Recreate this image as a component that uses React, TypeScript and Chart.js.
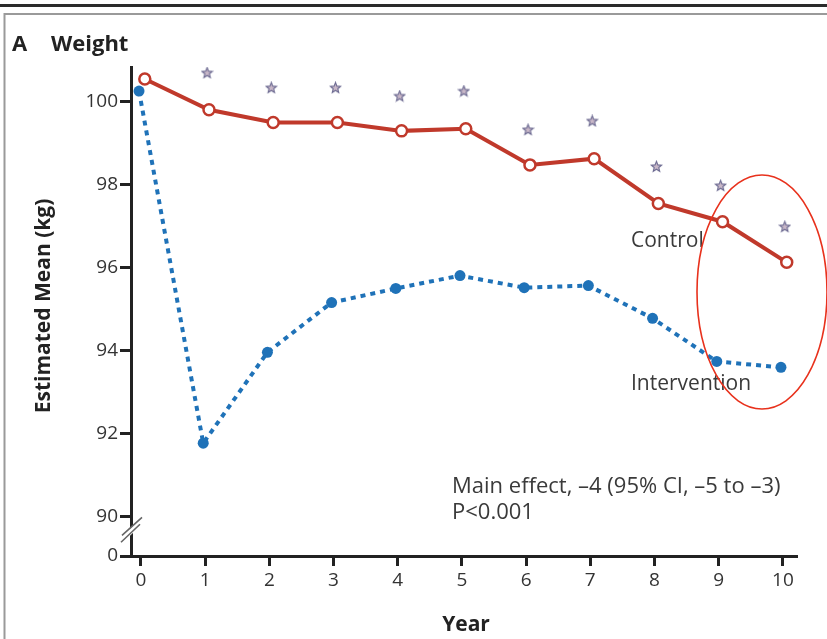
import React, { useEffect, useRef } from "react";
import { Chart, registerables } from "chart.js";

Chart.register(...registerables);

const years = [0, 1, 2, 3, 4, 5, 6, 7, 8, 9, 10];
const controlValues = [100.55, 99.81, 99.5, 99.5, 99.3, 99.35, 98.48, 98.63, 97.55, 97.11, 96.13];
const interventionValues = [100.26, 91.77, 93.96, 95.16, 95.5, 95.81, 95.52, 95.57, 94.78, 93.74, 93.6];
const starYears = [1, 2, 3, 4, 5, 6, 7, 8, 9, 10];
const starValues = [100.7, 100.34, 100.34, 100.14, 100.26, 99.33, 99.54, 98.44, 97.98, 96.99];
const yTickValues = [90, 92, 94, 96, 98, 100];
const xTickValues = [0, 1, 2, 3, 4, 5, 6, 7, 8, 9, 10];

const Y_MIN = 89.05;
const Y_MAX = 100.84;
const X_MIN = -0.155;
const X_MAX = 10.22;

const FONT = "'Open Sans', 'Liberation Sans', sans-serif";
const TEXT = "#333333";
const RED = "#c0392b";
const BLUE = "#1f72b8";

function makeStar(): HTMLCanvasElement {
  const c = document.createElement("canvas");
  c.width = 13;
  c.height = 13;
  const g = c.getContext("2d")!;
  g.beginPath();
  const cx = 6.5, cy = 6.8, R = 5.5, r = 2.4;
  for (let i = 0; i < 10; i++) {
    const a = -Math.PI / 2 + (i * Math.PI) / 5;
    const rad = i % 2 === 0 ? R : r;
    const x = cx + rad * Math.cos(a);
    const y = cy + rad * Math.sin(a);
    if (i === 0) g.moveTo(x, y);
    else g.lineTo(x, y);
  }
  g.closePath();
  g.fillStyle = "#c9b8c8";
  g.fill();
  g.strokeStyle = "#6a6890";
  g.lineWidth = 1.1;
  g.stroke();
  return c;
}

const decorPlugin = {
  id: "decor",
  beforeDraw(chart: any) {
    const ctx = chart.ctx;
    ctx.save();
    ctx.fillStyle = "#ffffff";
    ctx.fillRect(0, 0, chart.width, chart.height);
    ctx.strokeStyle = "#2a2a2a";
    ctx.lineWidth = 3;
    ctx.beginPath();
    ctx.moveTo(0, 5.5);
    ctx.lineTo(chart.width, 5.5);
    ctx.stroke();
    ctx.strokeStyle = "#9a9a9a";
    ctx.lineWidth = 2;
    ctx.beginPath();
    ctx.moveTo(4.5, chart.height);
    ctx.lineTo(4.5, 14);
    ctx.lineTo(chart.width, 14);
    ctx.stroke();
    ctx.restore();
  },
  afterDraw(chart: any) {
    const ctx = chart.ctx;
    const yScale = chart.scales.y;
    const xScale = chart.scales.x;
    ctx.save();
    ctx.fillStyle = "#222";
    ctx.textBaseline = "middle";
    ctx.textAlign = "left";
    ctx.font = `bold 22px ${FONT}`;
    ctx.fillText("A", 12, 45);
    ctx.fillText("Weight", 51, 45);

    // y title
    ctx.save();
    ctx.translate(44, 306);
    ctx.rotate(-Math.PI / 2);
    ctx.textAlign = "center";
    ctx.font = `bold 21px ${FONT}`;
    ctx.fillText("Estimated Mean (kg)", 0, 0);
    ctx.restore();

    // x title
    ctx.textAlign = "center";
    ctx.font = `bold 21px ${FONT}`;
    ctx.fillText("Year", 466, 625);

    // annotations
    ctx.fillStyle = "#3a3a3a";
    ctx.textAlign = "left";
    ctx.font = `21px ${FONT}`;
    ctx.fillText("Control", 631, 241);
    ctx.fillText("Intervention", 631, 384);
    ctx.font = `22px ${FONT}`;
    ctx.fillText("Main effect, \u20134 (95% CI, \u20135 to \u20133)", 452, 487);
    ctx.fillText("P<0.001", 452, 513);

    // axis break
    const ax = xScale.left;
    const by = yScale.getPixelForValue(89.67);
    ctx.fillStyle = "#ffffff";
    ctx.beginPath();
    ctx.moveTo(ax - 9, by + 6);
    ctx.lineTo(ax + 9, by - 11);
    ctx.lineTo(ax + 9, by - 4);
    ctx.lineTo(ax - 9, by + 13);
    ctx.closePath();
    ctx.fill();
    ctx.strokeStyle = "#666";
    ctx.lineWidth = 1.6;
    ctx.beginPath();
    ctx.moveTo(ax - 9, by + 5);
    ctx.lineTo(ax + 11, by - 13);
    ctx.moveTo(ax - 10, by + 12);
    ctx.lineTo(ax + 9, by - 6);
    ctx.stroke();

    // highlight ellipse
    ctx.strokeStyle = "#e8311c";
    ctx.lineWidth = 1.6;
    ctx.beginPath();
    ctx.ellipse(762, 292, 65, 117, 0, 0, Math.PI * 2);
    ctx.stroke();
    ctx.restore();
  },
};

export default function App() {
  const ref = useRef<HTMLCanvasElement | null>(null);
  useEffect(() => {
    document.body.style.margin = "0";
    const star = makeStar();
    const chart = new Chart(ref.current!, {
      type: "scatter",
      data: {
        datasets: [
          {
            label: "Intervention",
            data: years.map((yr, i) => ({ x: yr - 0.03, y: interventionValues[i] })),
            showLine: true,
            borderColor: BLUE,
            backgroundColor: BLUE,
            borderWidth: 4,
            borderDash: [5, 5],
            pointRadius: 5.5,
            pointBackgroundColor: BLUE,
            pointBorderColor: BLUE,
            pointBorderWidth: 0,
            order: 2,
          },
          {
            label: "Control",
            data: years.map((yr, i) => ({ x: yr + 0.06, y: controlValues[i] })),
            showLine: true,
            borderColor: RED,
            borderWidth: 4,
            pointRadius: 5.5,
            pointBackgroundColor: "#ffffff",
            pointBorderColor: RED,
            pointBorderWidth: 2.5,
            order: 1,
          },
          {
            label: "Significance",
            data: starYears.map((yr, i) => ({ x: yr + 0.03, y: starValues[i] })),
            showLine: false,
            pointStyle: star,
            pointRadius: 6,
            order: 0,
          },
        ],
      },
      options: {
        animation: false,
        responsive: true,
        maintainAspectRatio: false,
        layout: { padding: { top: 67, right: 30, left: 0, bottom: 0 } },
        plugins: { legend: { display: false }, tooltip: { enabled: false }, title: { display: false } },
        scales: {
          x: {
            type: "linear",
            min: X_MIN,
            max: X_MAX,
            afterBuildTicks: (s: any) => {
              s.ticks = xTickValues.map((v) => ({ value: v }));
            },
            afterFit: (s: any) => {
              s.height = 83;
            },
            ticks: { color: TEXT, font: { family: FONT, size: 19 }, padding: 3, autoSkip: false, maxRotation: 0 },
            grid: { drawOnChartArea: false, drawTicks: true, tickLength: 10, tickWidth: 3, tickColor: "#222" },
            border: { display: true, color: "#222", width: 3 },
          },
          y: {
            type: "linear",
            min: Y_MIN,
            max: Y_MAX,
            afterBuildTicks: (s: any) => {
              s.ticks = [{ value: Y_MIN }, ...yTickValues.map((v) => ({ value: v }))];
            },
            afterFit: (s: any) => {
              s.width = 131;
            },
            ticks: {
              color: TEXT,
              font: { family: FONT, size: 19 },
              padding: 2,
              callback: (v: any) => (v === Y_MIN ? "0" : String(v)),
            },
            grid: { drawOnChartArea: false, drawTicks: true, tickLength: 11, tickWidth: 3, tickColor: "#222" },
            border: { display: true, color: "#222", width: 3 },
          },
        },
      },
      plugins: [decorPlugin],
    });
    return () => chart.destroy();
  }, []);
  return (
    <div style={{ position: "fixed", left: 0, top: 0, width: 827, height: 639 }}>
      <canvas ref={ref} />
    </div>
  );
}
